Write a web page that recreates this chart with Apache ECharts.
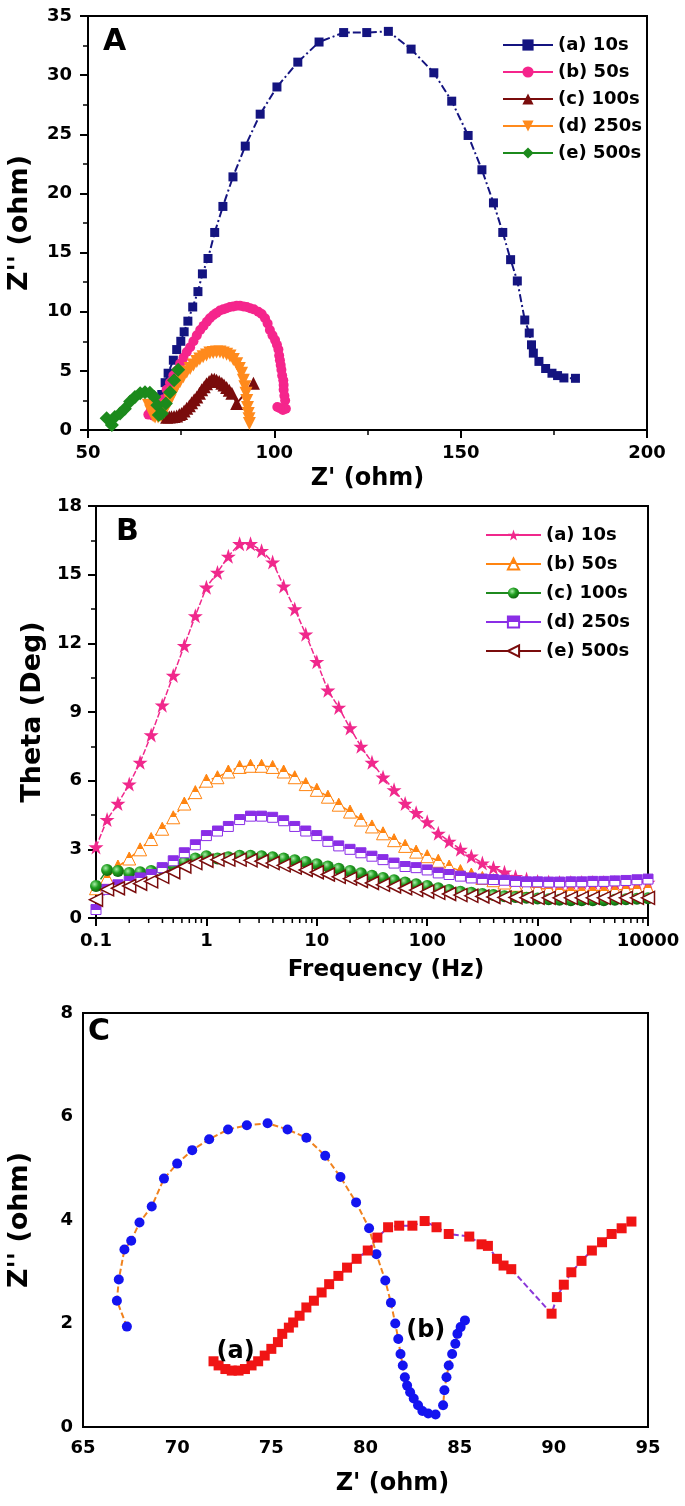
<!DOCTYPE html>
<html><head><meta charset="utf-8">
<script src="https://cdn.jsdelivr.net/npm/echarts@6/dist/echarts.min.js"></script>
<style>html,body{margin:0;padding:0;background:#fff}#c{width:685px;height:1506px}</style>
</head><body><div id="c"></div>
<script>
// ---------- Panel A: Nyquist plots [Z', Z''] ----------
const nyqA_10s = [[68.0,1.3],[68.9,2.0],[69.8,3.0],[70.7,4.0],[71.5,4.8],[72.9,5.9],[73.8,6.8],[74.9,7.5],[75.8,8.3],[76.8,9.2],[78.1,10.4],[79.5,11.7],[80.7,13.2],[82.2,14.5],[84.0,16.7],[86.2,18.9],[88.9,21.4],[92.2,24.0],[96.2,26.7],[100.7,29.0],[106.3,31.1],[112.0,32.8],[118.6,33.6],[124.8,33.6],[130.6,33.7],[136.7,32.2],[142.8,30.2],[147.6,27.8],[152.0,24.9],[155.7,22.0],[158.8,19.2],[161.3,16.7],[163.4,14.4],[165.2,12.6],[167.2,9.3],[168.4,8.2],[169.0,7.2],[169.5,6.5],[171.0,5.8],[172.8,5.2],[174.5,4.8],[176.0,4.6],[177.7,4.4],[180.8,4.37]];
const nyqA_50s = [[66.2,1.3],[66.8,1.6],[67.5,1.2],[68.5,1.5],[69.5,2.0],[70.3,2.6],[71.1,3.4],[72.0,4.0],[72.9,4.6],[73.8,5.0],[74.7,5.6],[75.6,6.1],[76.5,6.6],[77.4,7.0],[78.3,7.5],[79.2,8.0],[80.1,8.45],[81.0,8.8],[81.9,9.15],[82.7,9.45],[83.6,9.7],[84.5,9.9],[85.4,10.1],[86.3,10.2],[87.2,10.3],[88.1,10.4],[89.0,10.45],[89.9,10.5],[90.8,10.5],[91.7,10.45],[92.6,10.4],[93.5,10.3],[94.5,10.2],[95.7,10.0],[96.6,9.8],[97.5,9.45],[98.2,9.0],[98.8,8.45],[99.5,8.0],[100.2,7.6],[100.7,7.2],[101.1,6.8],[101.3,6.3],[101.5,5.9],[101.7,5.5],[101.9,5.1],[102.1,4.6],[102.4,4.2],[102.5,3.8],[102.5,3.4],[102.7,2.9],[102.9,2.5],[103.1,1.8],[102.3,1.7],[101.5,1.85],[100.8,1.95]];
const nyqA_100s = [[71.1,1.07],[71.8,1.1],[72.4,1.13],[73.1,1.15],[73.8,1.18],[74.5,1.3],[75.1,1.4],[75.8,1.6],[76.5,1.83],[77.2,2.05],[77.8,2.3],[78.5,2.55],[79.2,2.8],[79.9,3.1],[80.5,3.4],[81.2,3.65],[81.8,3.9],[82.5,4.1],[83.2,4.3],[83.9,4.3],[84.5,4.2],[85.2,4.1],[85.9,3.95],[86.5,3.8],[87.2,3.6],[87.9,3.35],[88.6,3.1],[89.9,2.25],[94.4,3.95]];
const nyqA_250s = [[66.2,2.1],[66.8,1.6],[67.5,1.2],[68.0,1.1],[68.8,1.1],[69.6,1.2],[70.4,1.5],[71.2,2.0],[72.0,2.5],[72.9,3.1],[73.8,3.66],[74.7,4.1],[75.6,4.5],[76.5,4.9],[77.4,5.2],[78.3,5.5],[79.2,5.8],[80.0,6.0],[80.9,6.2],[81.8,6.35],[82.7,6.5],[83.6,6.55],[84.5,6.6],[85.4,6.6],[86.3,6.5],[87.2,6.4],[88.1,6.25],[89.0,5.95],[89.9,5.6],[90.6,5.2],[91.2,4.8],[91.7,4.2],[92.1,3.66],[92.4,3.1],[92.6,2.5],[92.8,1.9],[93.0,1.4],[93.2,0.95],[93.3,0.56]];
const nyqA_500s = [[55.0,0.99],[56.4,0.42],[57.2,1.1],[58.6,1.4],[59.9,1.8],[61.3,2.4],[62.6,2.8],[64.0,3.1],[65.3,3.2],[66.6,3.15],[67.8,2.8],[68.6,2.1],[69.0,1.27],[69.8,1.4],[70.9,2.25],[72.0,3.2],[73.1,4.2],[74.2,5.1]];
const legendA = ['(a) 10s','(b) 50s','(c) 100s','(d) 250s','(e) 500s'];

// ---------- Panel B: Bode phase ----------
const freqB = [0.1,0.126,0.158,0.2,0.251,0.316,0.398,0.501,0.631,0.794,1,1.26,1.58,2,2.51,3.16,3.98,5.01,6.31,7.94,10,12.6,15.8,20,25.1,31.6,39.8,50.1,63.1,79.4,100,126,158,200,251,316,398,501,631,794,1000,1260,1580,2000,2510,3160,3980,5010,6310,7940,10000];
const thetaB_10s = [3.1,4.3,5.0,5.85,6.8,8.0,9.3,10.6,11.9,13.2,14.45,15.1,15.8,16.35,16.35,16.05,15.55,14.5,13.5,12.4,11.2,9.95,9.2,8.3,7.5,6.8,6.15,5.6,5.0,4.6,4.2,3.7,3.35,3.0,2.7,2.4,2.2,2.0,1.8,1.7,1.6,1.57,1.55,1.55,1.55,1.55,1.55,1.55,1.55,1.55,1.55];
const thetaB_50s = [1.3,1.75,2.25,2.6,3.0,3.45,3.9,4.4,5.0,5.5,6.0,6.15,6.4,6.6,6.65,6.65,6.6,6.4,6.15,5.85,5.6,5.3,4.95,4.65,4.3,4.0,3.7,3.4,3.15,2.9,2.7,2.5,2.25,2.05,1.9,1.75,1.65,1.55,1.45,1.4,1.3,1.25,1.22,1.2,1.2,1.2,1.2,1.22,1.25,1.28,1.3];
const thetaB_100s = [1.4,2.1,2.05,1.97,2.0,2.05,2.15,2.3,2.45,2.6,2.7,2.6,2.65,2.72,2.72,2.7,2.65,2.6,2.52,2.45,2.35,2.25,2.15,2.05,1.95,1.85,1.75,1.65,1.55,1.47,1.4,1.3,1.22,1.15,1.1,1.05,1.0,0.95,0.92,0.88,0.85,0.82,0.8,0.78,0.78,0.78,0.78,0.8,0.82,0.84,0.86];
const thetaB_250s = [0.37,1.25,1.45,1.6,1.75,1.9,2.2,2.5,2.85,3.2,3.6,3.8,4.0,4.3,4.45,4.45,4.4,4.25,4.0,3.8,3.6,3.35,3.15,3.0,2.85,2.7,2.55,2.4,2.25,2.2,2.1,1.97,1.9,1.83,1.75,1.7,1.68,1.65,1.6,1.58,1.58,1.57,1.57,1.58,1.58,1.6,1.6,1.62,1.64,1.67,1.7];
const thetaB_500s = [0.8,1.25,1.3,1.4,1.5,1.6,1.8,2.0,2.25,2.4,2.5,2.55,2.55,2.55,2.52,2.48,2.4,2.3,2.2,2.1,2.0,1.9,1.8,1.72,1.62,1.53,1.45,1.38,1.3,1.22,1.15,1.1,1.05,1.0,0.97,0.94,0.92,0.9,0.9,0.89,0.88,0.88,0.88,0.88,0.88,0.88,0.88,0.88,0.88,0.88,0.88];
const legendB = ['(a) 10s','(b) 50s','(c) 100s','(d) 250s','(e) 500s'];
const freqMinorTicks = [0.2,0.3,0.4,0.5,0.6,0.7,0.8,0.9,2,3,4,5,6,7,8,9,20,30,40,50,60,70,80,90,200,300,400,500,600,700,800,900,2000,3000,4000,5000,6000,7000,8000,9000];

// ---------- Panel C: Nyquist zoom ----------
const nyqC_a = [[71.93,1.27],[72.2,1.19],[72.56,1.12],[72.9,1.09],[73.26,1.09],[73.6,1.12],[73.95,1.19],[74.3,1.27],[74.65,1.38],[75.0,1.51],[75.35,1.64],[75.58,1.8],[75.93,1.92],[76.16,2.02],[76.5,2.15],[76.86,2.31],[77.26,2.44],[77.67,2.6],[78.07,2.76],[78.56,2.92],[79.02,3.08],[79.53,3.25],[80.12,3.41],[80.63,3.66],[81.2,3.86],[81.79,3.89],[82.49,3.89],[83.14,3.98],[83.77,3.86],[84.42,3.73],[85.51,3.68],[86.16,3.53],[86.5,3.5],[86.98,3.25],[87.33,3.12],[87.74,3.05],[89.88,2.19],[90.16,2.51],[90.53,2.75],[90.93,2.99],[91.47,3.21],[92.02,3.41],[92.56,3.57],[93.07,3.73],[93.6,3.84],[94.12,3.97]];
const nyqC_b = [[67.33,1.94],[66.8,2.44],[66.9,2.85],[67.2,3.43],[67.56,3.6],[68.0,3.95],[68.65,4.26],[69.3,4.8],[70.0,5.09],[70.8,5.35],[71.7,5.56],[72.7,5.75],[73.7,5.83],[74.8,5.87],[75.86,5.75],[76.86,5.59],[77.86,5.24],[78.67,4.83],[79.5,4.34],[80.19,3.84],[80.58,3.34],[81.05,2.83],[81.35,2.4],[81.58,2.0],[81.74,1.7],[81.86,1.41],[81.98,1.19],[82.09,0.96],[82.21,0.8],[82.37,0.67],[82.56,0.55],[82.79,0.42],[83.02,0.31],[83.33,0.26],[83.72,0.24],[84.12,0.42],[84.19,0.71],[84.3,0.96],[84.42,1.19],[84.6,1.41],[84.77,1.61],[84.88,1.8],[85.05,1.93],[85.28,2.06]];
const annotC_text = ['(a)','(b)'];
const annotC_pos = [[73.1,1.45],[83.2,1.86]];

const FF = "'DejaVu Sans', sans-serif";
const BLK = '#000';
const starPath = 'path://M50,0 L61.8,35.1 L97.6,35.1 L68.8,56.7 L79.4,90.5 L50,69 L20.6,90.5 L31.2,56.7 L2.4,35.1 L38.2,35.1 Z';
function halfFill(c){return {type:'linear',x:0,y:0,x2:0,y2:1,colorStops:[{offset:0,color:c},{offset:0.5,color:c},{offset:0.5,color:'#fff'},{offset:1,color:'#fff'}]};}
const sphere = {type:'radial',x:0.38,y:0.35,r:0.7,colorStops:[{offset:0,color:'#a8eca8'},{offset:0.45,color:'#22a022'},{offset:1,color:'#0b5e0b'}]};

function lbl(margin){return {show:true,fontSize:18,fontWeight:'bold',fontFamily:FF,color:BLK,margin:margin,showMinLabel:true,showMaxLabel:true,hideOverlap:false};}
function axLine(){return {show:true,onZero:false,lineStyle:{color:BLK,width:2}};}
function nameStyle(sz,pad){return {fontSize:sz,fontWeight:'bold',fontFamily:FF,color:BLK,padding:pad||0};}

const chart = echarts.init(document.getElementById('c'), null, {renderer:'canvas'});
const nameMapA = {A1:legendA[0],A2:legendA[1],A3:legendA[2],A4:legendA[3],A5:legendA[4]};
const nameMapB = {B1:legendB[0],B2:legendB[1],B3:legendB[2],B4:legendB[3],B5:legendB[4]};
const zip = (xs, ys) => xs.map((x,i)=>[x, ys[i]]);

const option = {
  backgroundColor:'#fff',
  animation:false,
  grid:[
    {left:88,right:38,top:16,height:414,show:true,borderColor:BLK,borderWidth:2,containLabel:false,outerBoundsMode:'none'},
    {left:96,right:37,top:506,height:412,show:true,borderColor:BLK,borderWidth:2,containLabel:false,outerBoundsMode:'none'},
    {left:83,right:37,top:1013,height:414,show:true,borderColor:BLK,borderWidth:2,containLabel:false,outerBoundsMode:'none'}
  ],
  xAxis:[
    {gridIndex:0,type:'value',min:50,max:200,interval:50,axisLine:axLine(),
     axisTick:{show:true,inside:false,length:8,lineStyle:{color:BLK,width:2}},
     minorTick:{show:true,splitNumber:2,length:5,lineStyle:{color:BLK,width:1.5}},
     splitLine:{show:false},axisLabel:lbl(14),
     name:"Z' (ohm)",nameLocation:'middle',nameGap:37,nameTextStyle:nameStyle(24)},
    {gridIndex:1,type:'log',logBase:10,min:0.1,max:10000,axisLine:axLine(),
     axisTick:{show:true,inside:false,length:8,lineStyle:{color:BLK,width:2}},
     minorTick:{show:false},splitLine:{show:false},
     axisLabel:Object.assign(lbl(14),{formatter:v=>String(+(+v).toPrecision(6))}),
     name:'Frequency (Hz)',nameLocation:'middle',nameGap:41,nameTextStyle:nameStyle(23,[0,0,0,28])},
    {gridIndex:2,type:'value',min:65,max:95,interval:5,axisLine:axLine(),
     axisTick:{show:false},splitLine:{show:false},axisLabel:lbl(12),
     name:"Z' (ohm)",nameLocation:'middle',nameGap:45,nameTextStyle:nameStyle(24,[0,0,0,54])}
  ],
  yAxis:[
    {gridIndex:0,type:'value',min:0,max:35,interval:5,axisLine:axLine(),
     axisTick:{show:true,inside:false,length:8,lineStyle:{color:BLK,width:2}},
     minorTick:{show:true,splitNumber:2,length:5,lineStyle:{color:BLK,width:1.5}},
     splitLine:{show:false},axisLabel:lbl(16),
     name:"Z'' (ohm)",nameLocation:'middle',nameGap:55,nameTextStyle:nameStyle(27)},
    {gridIndex:1,type:'value',min:0,max:18,interval:3,axisLine:axLine(),
     axisTick:{show:true,inside:false,length:8,lineStyle:{color:BLK,width:2}},
     minorTick:{show:true,splitNumber:2,length:5,lineStyle:{color:BLK,width:1.5}},
     splitLine:{show:false},axisLabel:lbl(14),
     name:'Theta (Deg)',nameLocation:'middle',nameGap:50,nameTextStyle:nameStyle(27)},
    {gridIndex:2,type:'value',min:0,max:8,interval:2,axisLine:axLine(),
     axisTick:{show:false},splitLine:{show:false},axisLabel:lbl(10),
     name:"Z'' (ohm)",nameLocation:'middle',nameGap:50,nameTextStyle:nameStyle(27)}
  ],
  legend:[
    {data:['A1','A2','A3','A4','A5'],formatter:n=>nameMapA[n],orient:'vertical',left:497,top:31,
     itemWidth:50,itemHeight:14,itemGap:9,selectedMode:false,
     textStyle:{fontSize:18,fontWeight:'bold',fontFamily:FF,color:BLK},lineStyle:{type:'solid',width:2}},
    {data:['B1','B2','B3','B4','B5'],formatter:n=>nameMapB[n],orient:'vertical',left:480,top:521,
     itemWidth:55,itemHeight:14,itemGap:11,selectedMode:false,
     textStyle:{fontSize:18,fontWeight:'bold',fontFamily:FF,color:BLK},lineStyle:{type:'solid',width:2}}
  ],
  graphic:[
    {type:'text',left:103,top:27,style:{text:'A',font:"bold 30px "+FF,fill:BLK}},
    {type:'text',left:116,top:517,style:{text:'B',font:"bold 30px "+FF,fill:BLK}},
    {type:'text',left:88,top:1017,style:{text:'C',font:"bold 30px "+FF,fill:BLK}}
  ],
  series:[
    {name:'A1',type:'line',xAxisIndex:0,yAxisIndex:0,data:nyqA_10s,symbol:'rect',symbolSize:9,
     itemStyle:{color:'#141480'},lineStyle:{color:'#141480',width:2,type:[8,3,2,3]}},
    {name:'A2',type:'line',xAxisIndex:0,yAxisIndex:0,data:nyqA_50s,symbol:'circle',symbolSize:10,
     itemStyle:{color:'#f5258c'},lineStyle:{color:'#f5258c',width:2}},
    {name:'A3',type:'line',xAxisIndex:0,yAxisIndex:0,data:nyqA_100s,symbol:'triangle',symbolSize:13,
     itemStyle:{color:'#7a0c0c'},lineStyle:{color:'#7a0c0c',width:2}},
    {name:'A4',type:'line',xAxisIndex:0,yAxisIndex:0,data:nyqA_250s,symbol:'triangle',symbolRotate:180,symbolSize:13,
     itemStyle:{color:'#ff8a1c'},lineStyle:{color:'#ff8a1c',width:2}},
    {name:'A5',type:'line',xAxisIndex:0,yAxisIndex:0,data:nyqA_500s,symbol:'diamond',symbolSize:14,
     itemStyle:{color:'#1c8a1c'},lineStyle:{color:'#1c8a1c',width:2}},

    {name:'B1',type:'line',xAxisIndex:1,yAxisIndex:1,data:zip(freqB,thetaB_10s),symbol:starPath,symbolSize:15,
     itemStyle:{color:'#f0288c'},lineStyle:{color:'#f0288c',width:1.5,type:[6,2]}},
    {name:'B2',type:'line',xAxisIndex:1,yAxisIndex:1,data:zip(freqB,thetaB_50s),symbol:'triangle',symbolSize:13,
     itemStyle:{color:halfFill('#ff8410'),borderColor:'#ff8410',borderWidth:1},lineStyle:{color:'#ff8410',width:1.5,type:[6,2]}},
    {name:'B3',type:'line',xAxisIndex:1,yAxisIndex:1,data:zip(freqB,thetaB_100s),symbol:'circle',symbolSize:12,
     itemStyle:{color:sphere},lineStyle:{color:'#1f8a1f',width:1.5,type:[6,2]}},
    {name:'B4',type:'line',xAxisIndex:1,yAxisIndex:1,data:zip(freqB,thetaB_250s),symbol:'rect',symbolSize:10,
     itemStyle:{color:halfFill('#8a2ee6'),borderColor:'#8a2ee6',borderWidth:1},lineStyle:{color:'#8a2ee6',width:1.5,type:[6,2]}},
    {name:'B5',type:'line',xAxisIndex:1,yAxisIndex:1,data:zip(freqB,thetaB_500s),symbol:'triangle',symbolRotate:90,symbolSize:13,
     itemStyle:{color:'#fff',borderColor:'#7a0c0c',borderWidth:1.5},lineStyle:{color:'#7a0c0c',width:1.5,type:[6,2]}},
    {name:'Bminor',type:'custom',xAxisIndex:1,yAxisIndex:1,clip:false,silent:true,z:5,
     data:freqMinorTicks.map(f=>[f,0]),
     renderItem:function(params,api){const p=api.coord([api.value(0),0]);
       return {type:'line',shape:{x1:p[0],y1:p[1],x2:p[0],y2:p[1]+5},style:{stroke:BLK,lineWidth:1.5}};}},

    {name:'C_b',type:'line',xAxisIndex:2,yAxisIndex:2,data:nyqC_b,symbol:'circle',symbolSize:10,
     itemStyle:{color:'#1414f0'},lineStyle:{color:'#f0821e',width:2,type:[6,3]}},
    {name:'C_a',type:'line',xAxisIndex:2,yAxisIndex:2,data:nyqC_a,symbol:'rect',symbolSize:10,
     itemStyle:{color:'#f01414'},lineStyle:{color:'#8a38d8',width:2,type:[6,3]}}
  ]
};
chart.setOption(option);
// place the (a)/(b) annotations through the chart's own coordinate system
const annotGraphics = annotC_text.map((t,i)=>{
  const p = chart.convertToPixel({gridIndex:2}, annotC_pos[i]);
  return {type:'text',x:p[0],y:p[1],z:100,style:{text:t,font:"bold 24px "+FF,fill:BLK,align:'center',verticalAlign:'middle'}};
});
chart.setOption({graphic:option.graphic.concat(annotGraphics)});
</script>
</body></html>
